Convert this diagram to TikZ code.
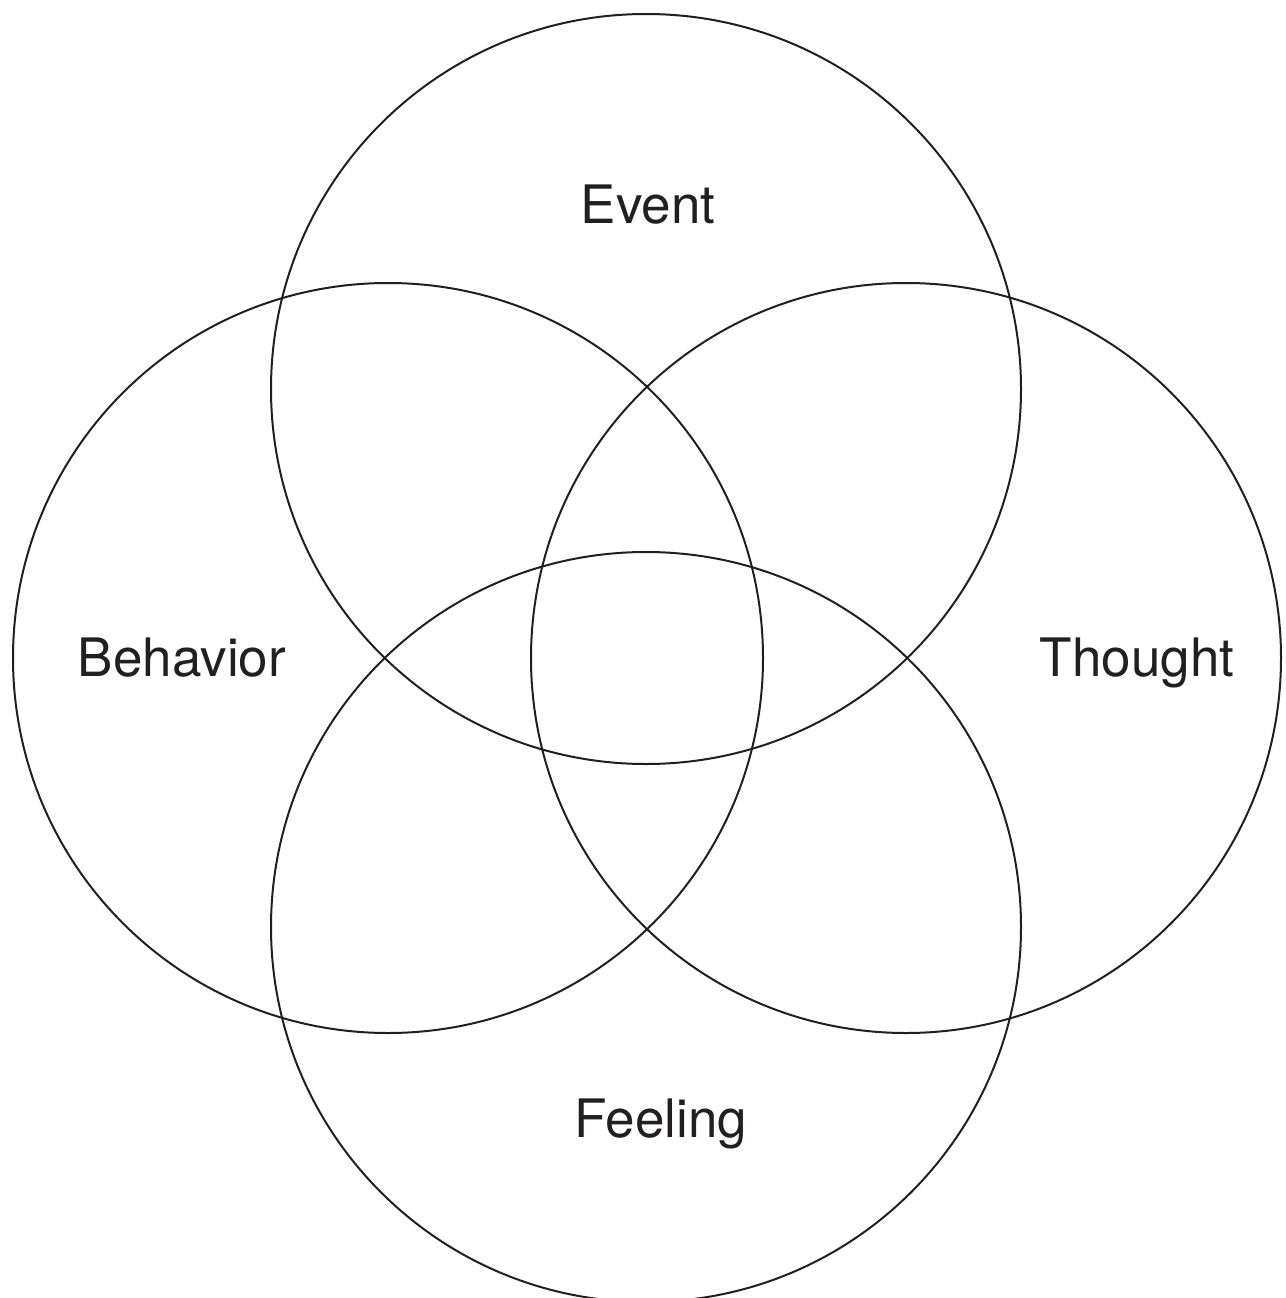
\documentclass[tikz,border=0pt]{standalone}
\usepackage{fontspec}
\setmainfont{TeX Gyre Heros}
\definecolor{ink}{HTML}{231F20}
\begin{document}
\begin{tikzpicture}[x=1pt,y=-1pt,
  ring/.style={draw=ink,line width=2pt},
  lbl/.style={text=ink,font=\fontsize{53}{60}\selectfont,anchor=base,inner sep=0pt}]
\useasboundingbox (0,0) rectangle (1285,1298);
\coordinate (cE) at (646,389);
\coordinate (cB) at (388,658);
\coordinate (cT) at (906,658);
\coordinate (cF) at (646,927);
\draw[ring] (cE) circle[radius=375];
\draw[ring] (cB) circle[radius=375];
\draw[ring] (cT) circle[radius=375];
\draw[ring] (cF) circle[radius=375];
\node[lbl] (event) at (648,223) {Event};
\node[lbl] (behavior) at (182,676) {Behavior};
\node[lbl] (thought) at (1137,676) {Thought};
\node[lbl] (feeling) at (661,1137) {Feeling};
\end{tikzpicture}
\end{document}
